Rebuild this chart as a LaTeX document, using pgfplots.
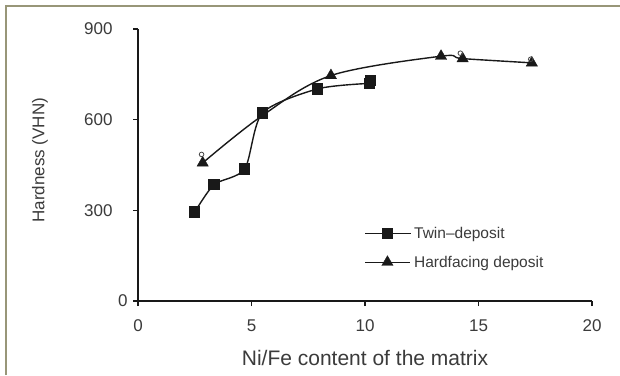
\documentclass[border=0pt]{standalone}
\usepackage{pgfplots}
\pgfplotsset{compat=1.18}
\usepackage{fontspec}
\setmainfont{Liberation Sans}
\definecolor{frame}{RGB}{152,150,120}
\definecolor{ink}{RGB}{25,25,25}
\begin{document}
\begin{tikzpicture}[x=1pt,y=1pt]
\useasboundingbox (0,0) rectangle (620,375);
\fill[white] (0,0) rectangle (620,375);
\draw[frame, line width=2.5pt] (6,0) -- (6,369) -- (620,369);
\begin{axis}[
  at={(138pt,74pt)}, anchor=south west,
  scale only axis, width=454pt, height=272pt,
  xmin=0, xmax=20, ymin=0, ymax=900,
  axis lines*=left,
  axis line style={ink, line width=1.6pt, -},
  xtick={0,5,10,15,20}, ytick={0,300,600,900},
  yticklabels={0,300\hspace*{15pt},600\hspace*{15pt},900\hspace*{15pt}},
  tick align=outside, major tick length=5pt,
  tick style={ink, line width=1.2pt},
  ticklabel style={font=\fontsize{17}{20}\selectfont, text=ink!85},
  /pgf/number format/assume math mode=true,
  xticklabel style={yshift=-10pt},
  yticklabel style={xshift=-2pt},
  xlabel={Ni/Fe content of the matrix},
  ylabel={Hardness (VHN)},
  xlabel style={font=\fontsize{21}{24}\selectfont, text=ink!85, at={(rel axis cs:0.5,0)}, anchor=center, yshift=-57pt},
  ylabel style={font=\fontsize{17}{20}\selectfont, text=ink!85, at={(rel axis cs:-0.216,0.518)}, anchor=center},
  legend style={at={(axis cs:9.98,255)}, anchor=north west, draw=none, fill=none,
    font=\fontsize{15.5}{18}\selectfont, row sep=10pt, inner sep=0pt, nodes={inner sep=3pt, text=ink!85}},
  legend cell align=left,
  legend image code/.code={\draw[mark repeat=2,mark phase=2] plot coordinates {(0pt,0pt)(22pt,0pt)(45pt,0pt)};},
]
\addplot[ink, line width=1.4pt, smooth, tension=0.45, mark=square*, mark size=5pt, mark options={solid}]
  coordinates {(2.5,294) (3.35,385) (4.7,437) (5.48,622) (7.92,702) (10.2,720)};
\addlegendentry{Twin--deposit}
\addplot[ink, line width=1.4pt, smooth, tension=0.55, no marks, forget plot]
  coordinates {(2.85,457) (5.45,612) (8.5,746) (13.35,810) (14.3,802) (17.35,788)};
\addplot[ink, only marks, mark=triangle*, mark size=6.5pt,
  legend image code/.code={\draw[ink, line width=1.4pt] (0pt,0pt)--(45pt,0pt);
    \draw[ink, mark=triangle*, mark size=6.5pt, only marks] plot coordinates {(22pt,0pt)};}]
  coordinates {(2.85,457) (8.5,746) (13.35,810) (14.3,802) (17.35,788)};
\addlegendentry{Hardfacing deposit}
\addplot[ink, only marks, mark=square*, mark size=5pt, forget plot] coordinates {(10.25,732)};
\addplot[ink!80, only marks, mark=o, mark size=2.3pt, line width=0.8pt, forget plot]
  coordinates {(2.8,485) (14.2,820) (17.3,800)};
\end{axis}
\end{tikzpicture}
\end{document}
